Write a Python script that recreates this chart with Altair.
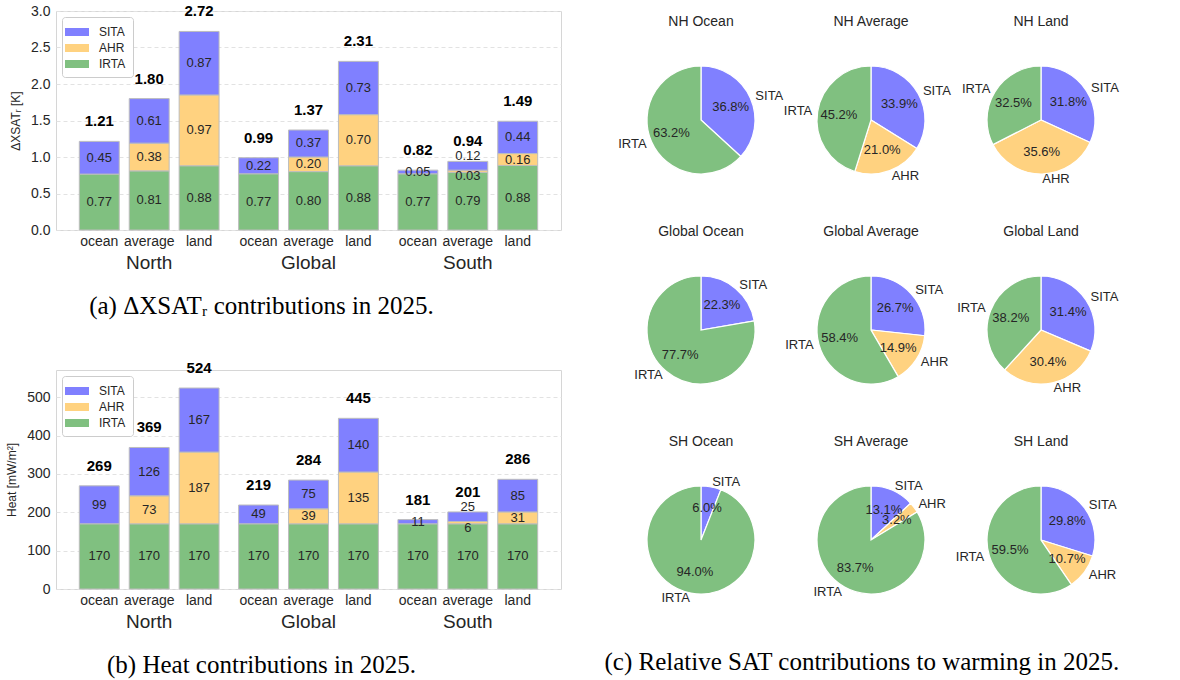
import itertools

import altair as alt
import pandas as pd

# ---------------------------------------------------------------- data
regions = ["North", "Global", "South"]
surfaces = ["ocean", "average", "land"]
components = ["SITA", "AHR", "IRTA"]              # legend / pie order
component_colors = ["#8080ff", "#ffd280", "#80c080"]
stack_order = ["IRTA", "AHR", "SITA"]             # bottom to top of a bar

# one value per bar: North ocean/average/land, Global ..., South ...
xsat_irta = [0.766, 0.81, 0.88, 0.77, 0.80, 0.88, 0.77, 0.79, 0.884]
xsat_ahr = [0.0, 0.38, 0.97, 0.0, 0.20, 0.70, 0.0, 0.03, 0.163]
xsat_sita = [0.448, 0.61, 0.87, 0.22, 0.37, 0.73, 0.05, 0.12, 0.443]

heat_irta = [170, 170, 170, 170, 170, 170, 170, 170, 170]
heat_ahr = [0, 73, 187, 0, 39, 135, 0, 6, 31]
heat_sita = [99, 126, 167, 49, 75, 140, 11, 25, 85]

pie_titles = ["NH Ocean", "NH Average", "NH Land",
              "Global Ocean", "Global Average", "Global Land",
              "SH Ocean", "SH Average", "SH Land"]
pie_sita = [36.8, 33.9, 31.8, 22.3, 26.7, 31.4, 6.0, 13.1, 29.8]
pie_ahr = [0.0, 21.0, 35.6, 0.0, 14.9, 30.4, 0.0, 3.2, 10.7]
pie_irta = [63.2, 45.2, 32.5, 77.7, 58.4, 38.2, 94.0, 83.7, 59.5]

TEXT = "#262626"
color_scale = alt.Scale(domain=components, range=component_colors)


# ---------------------------------------------------------------- bars
def bar_table(irta, ahr, sita, fmt):
    rows = []
    for i, (region, surface) in enumerate(itertools.product(regions, surfaces)):
        parts = {"IRTA": irta[i], "AHR": ahr[i], "SITA": sita[i]}
        total = sum(parts.values())
        # a very thin AHR slab pushes its neighbours' labels apart
        crowded = 0 < parts["AHR"] < 0.05 * total
        base = 0.0
        for comp in stack_order:
            v = parts[comp]
            shift = "none"
            if crowded and comp == "SITA":
                shift = "up"
            elif crowded and comp == "AHR":
                shift = "down"
            rows.append(dict(region=region, surface=surface, component=comp,
                             value=v, bottom=base, top=base + v,
                             mid=base + v / 2, shift=shift,
                             label=format(v, fmt),
                             total_label=format(total, fmt)))
            base += v
    return pd.DataFrame(rows)


W, H = 505, 219


def bar_panel(df, y_title, y_max, y_ticks, tick_fmt, caption):
    x = alt.X("region:N", sort=regions, title=None,
              scale=alt.Scale(paddingInner=0.06, paddingOuter=0.115),
              axis=alt.Axis(labelAngle=0, labelFontSize=19, labelPadding=23,
                            ticks=False, domain=False, labelColor=TEXT))
    x_off = alt.XOffset("surface:N", sort=surfaces,
                        scale=alt.Scale(paddingInner=0.2, paddingOuter=0.1))
    y_scale = alt.Scale(domain=[0, y_max], nice=False)
    y_axis = alt.Axis(values=y_ticks, format=tick_fmt, tickCount=len(y_ticks),
                      labelFontSize=14, labelColor=TEXT, ticks=False,
                      domain=False, labelOverlap=False, labelPadding=6,
                      titleFontSize=12, titleFontWeight="normal",
                      titleColor=TEXT, titlePadding=8,
                      gridColor="#e2e2e2", gridDash=[4, 3])

    def y_enc(field):
        return alt.Y(field, scale=y_scale, axis=y_axis, title=y_title)

    legend = alt.Legend(title=None, orient="top-left", offset=6,
                        fillColor="white", strokeColor="#cccccc",
                        cornerRadius=3, padding=7,
                        symbolType="M-1.5,-0.5H1.5V0.5H-1.5Z", symbolSize=256,
                        symbolStrokeWidth=0, symbolOpacity=1,
                        labelFontSize=12, labelColor=TEXT, labelOffset=14,
                        rowPadding=2)

    seg = alt.Chart(df).transform_filter("datum.value > 0")
    bars = seg.mark_bar(stroke="#bdbdbd", strokeWidth=1).encode(
        x=x, xOffset=x_off,
        y=y_enc("bottom:Q"),
        y2="top:Q",
        color=alt.Color("component:N", scale=color_scale, legend=legend),
    )

    def seg_labels(shift, dy):
        return seg.transform_filter(f"datum.shift == '{shift}'").mark_text(
            fontSize=13, color=TEXT, baseline="middle", dy=dy
        ).encode(x=x, xOffset=x_off, y=y_enc("mid:Q"), text="label:N")

    per_bar = alt.Chart(df).transform_filter("datum.component == 'SITA'")
    totals = per_bar.mark_text(fontSize=15, fontWeight="bold", color="black",
                               baseline="middle", dy=-20).encode(
        x=x, xOffset=x_off, y=y_enc("top:Q"), text="total_label:N")
    sub_labels = per_bar.mark_text(fontSize=14, color=TEXT,
                                   baseline="middle").encode(
        x=x, xOffset=x_off, y=alt.value(H + 12), text="surface:N")

    return alt.layer(
        bars, seg_labels("none", 0), seg_labels("up", -10),
        seg_labels("down", 5), totals, sub_labels,
    ).properties(
        width=W, height=H,
        title=alt.TitleParams(caption, orient="bottom", font="Liberation Serif",
                              fontSize=25, fontWeight="normal", color="black",
                              offset=22, dx=-47),
    )


xsat_df = bar_table(xsat_irta, xsat_ahr, xsat_sita, ".2f")
heat_df = bar_table(heat_irta, heat_ahr, heat_sita, ".0f")

panel_a = bar_panel(xsat_df, "ΔXSATᵣ [K]", 3.0,
                    [0, 0.5, 1, 1.5, 2, 2.5, 3], ".1f",
                    "(a) ΔXSATᵣ contributions in 2025.")
panel_b = bar_panel(heat_df, "Heat [mW/m²]", 571,
                    [0, 100, 200, 300, 400, 500], "d",
                    "(b) Heat contributions in 2025.")

left = alt.vconcat(panel_a, panel_b, spacing=40).resolve_legend(
    color="independent").resolve_scale(y="independent")

# ---------------------------------------------------------------- pies
R = 54
CELL_W, CELL_H = 170, 210
CX, CY, TITLE_Y = 85, 109, 11


def pie_cell(k):
    parts = {"SITA": pie_sita[k], "AHR": pie_ahr[k], "IRTA": pie_irta[k]}
    total = sum(parts.values())
    rows, start = [], 0.0
    for comp in components:            # clockwise from 12 o'clock
        v = parts[comp]
        if v <= 0:
            continue
        end = start + v / total
        mid = (start + end) / 2
        rows.append(dict(component=comp, value=v, start=start, end=end,
                         mid=mid, pct=f"{v:.1f}%",
                         side="right" if mid < 0.5 else "left"))
        start = end
    df = pd.DataFrame(rows)

    theta_scale = alt.Scale(domain=[0, 1])
    centre = dict(x=alt.value(CX), y=alt.value(CY))
    base = alt.Chart(df)
    arcs = base.mark_arc(outerRadius=R, stroke="white", strokeWidth=1.2).encode(
        theta=alt.Theta("start:Q", scale=theta_scale, stack=False),
        theta2="end:Q",
        color=alt.Color("component:N", scale=color_scale, legend=None),
        **centre,
    )
    pct = base.mark_text(radius=0.6 * R, fontSize=13, color=TEXT,
                         baseline="middle").encode(
        theta=alt.Theta("mid:Q", scale=theta_scale, stack=False),
        text="pct:N", **centre)

    def names(side, align):
        return base.transform_filter(f"datum.side == '{side}'").mark_text(
            radius=1.1 * R, fontSize=13, color=TEXT, align=align,
            baseline="middle").encode(
            theta=alt.Theta("mid:Q", scale=theta_scale, stack=False),
            text="component:N", **centre)

    title = alt.Chart(pd.DataFrame({"title": [pie_titles[k]]})).mark_text(
        fontSize=14, color=TEXT, baseline="middle").encode(
        text="title:N", x=alt.value(CX), y=alt.value(TITLE_Y))

    return alt.layer(arcs, pct, names("right", "left"), names("left", "right"),
                     title).properties(
        width=CELL_W, height=CELL_H,
        view=alt.ViewBackground(stroke="transparent"))


cells = [pie_cell(k) for k in range(9)]
right = alt.concat(*cells, columns=3, spacing=0, bounds="flush").properties(
    title=alt.TitleParams("(c) Relative SAT contributions to warming in 2025.",
                          orient="bottom", anchor="start", dx=-11, offset=8,
                          font="Liberation Serif", fontSize=25,
                          fontWeight="normal", color="black"),
)

chart = alt.hconcat(left, right, spacing=42).resolve_legend(
    color="independent"
).properties(
    padding={"left": 5, "top": 3, "right": 2, "bottom": 2},
    background="white",
).configure(
    font="Liberation Sans",
).configure_view(
    stroke="#d6d6d6", strokeWidth=1,
)

chart.save("out.html", embed_options={"renderer": "svg", "actions": False})
